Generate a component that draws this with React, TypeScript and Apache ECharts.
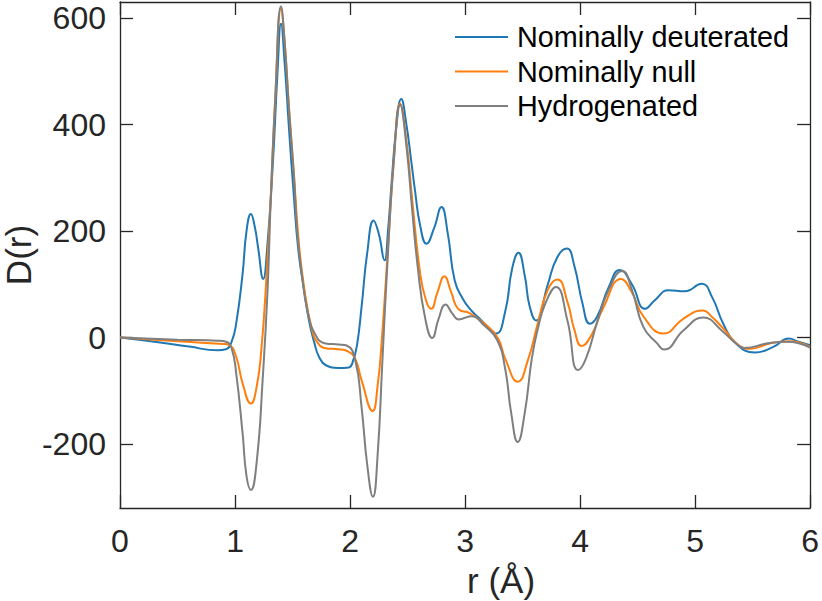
import React, { useEffect, useRef } from "react";
import * as echarts from "echarts";

const seriesNames = ["Nominally deuterated", "Nominally null", "Hydrogenated"];
const seriesColors = ["#1f77b4", "#ff7f0e", "#7f7f7f"];

const xTicks = [0, 1, 2, 3, 4, 5, 6];
const yTicks = [-200, 0, 200, 400, 600];

const deuteratedR = [0, 0.3, 0.6, 0.85, 0.92, 0.97, 1.01, 1.066, 1.1, 1.138, 1.17, 1.2, 1.245, 1.28, 1.33, 1.37, 1.4, 1.43, 1.47, 1.51, 1.55, 1.6, 1.643, 1.69, 1.73, 1.79, 1.9, 1.99, 2.02, 2.06, 2.1, 2.15, 2.205, 2.25, 2.3, 2.33, 2.363, 2.4, 2.445, 2.49, 2.53, 2.565, 2.61, 2.665, 2.73, 2.795, 2.85, 2.91, 2.98, 3.05, 3.11, 3.2, 3.27, 3.35, 3.41, 3.464, 3.52, 3.56, 3.617, 3.72, 3.8, 3.885, 3.95, 4.02, 4.086, 4.15, 4.25, 4.345, 4.45, 4.567, 4.65, 4.77, 4.91, 5.057, 5.15, 5.245, 5.35, 5.52, 5.68, 5.815, 5.9, 6.0];
const deuteratedD = [0, -8, -17, -24, -22, -8, 26, 120, 200, 232, 210, 170, 110, 170, 330, 500, 589, 520, 390, 270, 165, 90, 32, -10, -36, -52, -57, -56, -48, -15, 57, 160, 220, 195, 145, 200, 295, 390, 448, 400, 335, 276, 210, 176, 205, 245, 195, 107, 73, 52, 39, 20, 7.5, 50, 130, 159, 115, 60, 32, 100, 150, 167, 135, 65, 26, 40, 95, 127, 100, 54, 70, 89, 87, 101, 75, 26, -10, -28, -17.6, -2, -8, -14.5];

const nullR = [0, 0.5, 0.9, 0.95, 1.01, 1.066, 1.138, 1.19, 1.23, 1.268, 1.31, 1.35, 1.4, 1.43, 1.47, 1.513, 1.55, 1.6, 1.67, 1.72, 1.786, 1.9, 1.98, 2.045, 2.1, 2.196, 2.24, 2.276, 2.334, 2.38, 2.435, 2.49, 2.54, 2.61, 2.66, 2.705, 2.76, 2.82, 2.88, 2.94, 3.04, 3.17, 3.285, 3.35, 3.458, 3.55, 3.63, 3.72, 3.804, 3.89, 3.95, 4.014, 4.1, 4.2, 4.357, 4.45, 4.55, 4.726, 4.9, 5.066, 5.15, 5.245, 5.39, 5.48, 5.65, 5.82, 6.0];
const nullD = [0, -7, -12, -14, -36, -86, -124, -90, -20, 95, 260, 450, 618, 560, 430, 305, 190, 95, 14, -10, -20, -22, -26, -40, -80, -138, -90, -5, 182, 330, 439, 370, 260, 120, 70, 54, 85, 115, 85, 54, 46, 26, -1, -40, -83, -40, 25, 90, 109, 67, 15, -16, 5, 55, 110, 85, 40, 7.5, 35.6, 51, 38, 17, -16, -21, -11, -7, -17.6];

const hydroR = [0, 0.5, 0.85, 0.922, 0.97, 1.01, 1.066, 1.1, 1.138, 1.19, 1.24, 1.283, 1.31, 1.349, 1.4, 1.43, 1.47, 1.513, 1.54, 1.58, 1.63, 1.7, 1.786, 1.9, 1.97, 2.045, 2.1, 2.15, 2.199, 2.24, 2.28, 2.33, 2.38, 2.435, 2.49, 2.54, 2.59, 2.65, 2.715, 2.77, 2.83, 2.89, 2.945, 3.05, 3.17, 3.28, 3.35, 3.4, 3.458, 3.52, 3.58, 3.63, 3.7, 3.79, 3.89, 3.982, 4.05, 4.15, 4.25, 4.366, 4.45, 4.55, 4.67, 4.73, 4.9, 5.07, 5.245, 5.35, 5.43, 5.65, 5.8, 6.0];
const hydroD = [0, -4, -6, -8, -20, -67, -180, -260, -286, -230, -80, 89, 257, 445, 622, 560, 426, 301, 200, 120, 50, 5, -11, -13, -15, -42, -130, -240, -299, -220, -50, 160, 330, 437, 360, 240, 130, 40, -1, 35, 62, 45, 34, 40, 22, -5, -60, -140, -196, -140, -40, 14, 65, 95, 32, -61, -40, 30, 90, 125, 90, 20, -11, -22.5, 13.7, 37.5, 10.5, -10, -19.5, -10, -8, -19];

const FONT = "'Liberation Sans', Arial, Helvetica, sans-serif";
const AX = "#262626";

function pairs(r: number[], d: number[]) {
  return r.map((v, i) => [v, d[i]]);
}

export default function App() {
  const ref = useRef<HTMLDivElement>(null);
  useEffect(() => {
    if (!ref.current) return;
    const chart = echarts.init(ref.current, undefined, { renderer: "svg" });
    const tickStyle = { show: true, inside: true, length: 13, lineStyle: { color: AX, width: 1.3 } };
    const lineStyle = { show: true, onZero: false, lineStyle: { color: AX, width: 1.3 } };
    const option: any = {
      animation: false,
      backgroundColor: "#ffffff",
      grid: { left: 120, right: 8, top: 2, bottom: 93, containLabel: false },
      legend: {
        orient: "vertical",
        left: 455,
        top: 22,
        padding: 0,
        icon: "rect",
        itemWidth: 53,
        itemHeight: 2,
        itemGap: 4.5,
        textStyle: { fontFamily: FONT, fontSize: 28.8, lineHeight: 30, color: "#000", padding: [0, 0, 0, 4] },
        data: seriesNames,
      },
      xAxis: [
        {
          type: "value",
          min: 0,
          max: 6,
          interval: 1,
          axisLine: lineStyle,
          axisTick: tickStyle,
          splitLine: { show: false },
          axisLabel: { fontFamily: FONT, fontSize: 32, color: AX, margin: 17, customValues: xTicks },
        },
        {
          type: "value",
          position: "top",
          min: 0,
          max: 6,
          interval: 1,
          axisLine: lineStyle,
          axisTick: tickStyle,
          splitLine: { show: false },
          axisLabel: { show: false },
        },
      ],
      yAxis: [
        {
          type: "value",
          min: -320,
          max: 630,
          axisLine: lineStyle,
          axisTick: { ...tickStyle, customValues: yTicks },
          splitLine: { show: false },
          axisLabel: { fontFamily: FONT, fontSize: 32, color: AX, margin: 14, customValues: yTicks },
        },
        {
          type: "value",
          position: "right",
          min: -320,
          max: 630,
          axisLine: lineStyle,
          axisTick: { ...tickStyle, customValues: yTicks },
          splitLine: { show: false },
          axisLabel: { show: false },
        },
      ],
      series: [
        { r: deuteratedR, d: deuteratedD },
        { r: nullR, d: nullD },
        { r: hydroR, d: hydroD },
      ].map((s, i) => ({
        name: seriesNames[i],
        type: "line",
        xAxisIndex: 0,
        yAxisIndex: 0,
        data: pairs(s.r, s.d),
        smooth: 0.5,
        symbol: "none",
        showSymbol: false,
        lineStyle: { color: seriesColors[i], width: 2 },
        itemStyle: { color: seriesColors[i] },
        z: 2 + i,
      })),
      graphic: [
        {
          type: "text",
          left: 467,
          top: 563,
          style: { text: "r (Å)", fontFamily: FONT, fontSize: 35, fill: AX, align: "center" },
        },
        {
          type: "text",
          x: 18,
          y: 255,
          rotation: Math.PI / 2,
          style: { text: "D(r)", fontFamily: FONT, fontSize: 35, fill: AX, align: "center", verticalAlign: "middle" },
        },
      ],
    };
    chart.setOption(option);
    return () => chart.dispose();
  }, []);
  return (
    <div
      ref={ref}
      style={{ position: "fixed", left: 0, top: 0, width: 822, height: 601, background: "#fff" }}
    />
  );
}
